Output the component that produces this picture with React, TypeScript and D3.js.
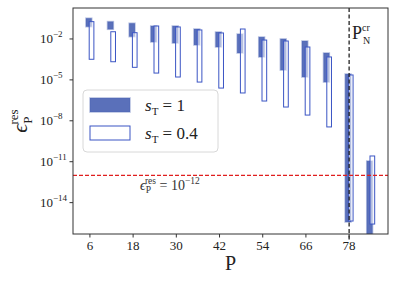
import React from 'react';
import * as d3 from 'd3';

// P values (x positions of the bar pairs)
const pValues = [6, 12, 18, 24, 30, 36, 42, 48, 54, 60, 66, 72, 78, 84];

// log10 of the residual range for s_T = 1 (filled bars): [top, bottom]
const fullTop = [-0.48, -0.73, -0.85, -1.05, -1.05, -1.27, -1.49, -1.64, -1.86, -2.0, -2.15, -3.03, -4.57, -10.95];
const fullBottom = [-1.1, -1.29, -1.83, -2.22, -2.3, -2.44, -2.59, -3.03, -3.32, -4.28, -4.79, -5.16, -15.42, -17.5];

// log10 of the residual range for s_T = 0.4 (outlined bars)
const partTop = [-0.73, -1.47, -1.54, -1.05, -1.12, -1.34, -1.56, -1.27, -2.08, -2.15, -2.59, -3.32, -4.64, -10.58];
const partBottom = [-3.49, -3.67, -4.08, -4.5, -4.79, -5.16, -5.6, -5.96, -6.55, -6.99, -7.58, -8.45, -15.35, -15.57];

const xTicks = [6, 18, 30, 42, 54, 66, 78];
const yTickExp = [-2, -5, -8, -11, -14];
const threshold = 1e-12;
const pCritical = 78;

const W = 397;
const H = 283;
const plot = { left: 73, right: 388, top: 8, bottom: 234 };
const serif = '"Liberation Serif", "DejaVu Serif", serif';

export default function App() {
  const x = d3.scaleLinear().domain([1.3, 88.8]).range([plot.left, plot.right]);
  const y = d3.scaleLog().domain([Math.pow(10, -16.3), Math.pow(10, 0.27)]).range([plot.bottom, plot.top]);

  const fillColor = '#4c64b4';
  const edgeColor = '#3b55c4';

  return (
    <svg width={W} height={H} style={{ position: 'absolute', left: 0, top: 0, background: '#fff', fontFamily: serif }}>
      <defs>
        <clipPath id="plotClip">
          <rect x={plot.left} y={plot.top} width={plot.right - plot.left} height={plot.bottom - plot.top} />
        </clipPath>
      </defs>

      {/* bars */}
      <g clipPath="url(#plotClip)">
        {pValues.map((p, i) => {
          const yt = y(Math.pow(10, fullTop[i]));
          const yb = y(Math.pow(10, fullBottom[i]));
          const x0 = x(p - 1.1);
          const x1 = x(p + 0.5);
          return (
            <rect key={'f' + p} x={x0} y={yt} width={x1 - x0} height={yb - yt}
              fill={fillColor} fillOpacity={0.92} stroke={fillColor} strokeOpacity={0.4} strokeWidth={1.6} />
          );
        })}
        {pValues.map((p, i) => {
          const yt = y(Math.pow(10, partTop[i]));
          const yb = y(Math.pow(10, partBottom[i]));
          const x0 = x(p - 0.2);
          const x1 = x(p + 1.1);
          return (
            <rect key={'o' + p} x={x0} y={yt} width={x1 - x0} height={yb - yt}
              fill="#fff" fillOpacity={0.55} stroke={edgeColor} strokeWidth={1} />
          );
        })}
      </g>

      {/* threshold line */}
      <line x1={plot.left} x2={plot.right} y1={y(threshold)} y2={y(threshold)}
        stroke="#e01e1e" strokeWidth={1.2} strokeDasharray="4,2" />
      <text x={140} y={y(threshold) + 15} fontSize={14} fill="#333">
        <tspan fontStyle="italic">ϵ</tspan>
        <tspan fontSize={9.5} dy={3}>P</tspan>
        <tspan fontSize={9.5} dx={-6} dy={-9}>res</tspan>
        <tspan dy={6}> = 10</tspan>
        <tspan fontSize={9.5} dy={-6}>−12</tspan>
      </text>

      {/* critical P line */}
      <line x1={x(pCritical)} x2={x(pCritical)} y1={plot.top} y2={240}
        stroke="#222" strokeWidth={1.3} strokeDasharray="4,2.5" />
      <text x={352} y={39} fontSize={18} fill="#222">
        P
        <tspan fontSize={10} dy={-8}>cr</tspan>
      </text>
      <text x={363} y={44} fontSize={10} fill="#222">N</text>

      {/* axes frame */}
      <rect x={plot.left} y={plot.top} width={plot.right - plot.left} height={plot.bottom - plot.top}
        fill="none" stroke="#333" strokeWidth={1} />

      {/* y ticks */}
      {yTickExp.map(e => {
        const yy = y(Math.pow(10, e));
        return (
          <g key={'y' + e}>
            <line x1={plot.left - 3.5} x2={plot.left} y1={yy} y2={yy} stroke="#333" />
            <text x={plot.left - 33} y={yy + 4.5} fontSize={13} fill="#222">
              10
              <tspan fontSize={9} dy={-6}>{'−' + Math.abs(e)}</tspan>
            </text>
          </g>
        );
      })}

      {/* x ticks */}
      {xTicks.map(t => (
        <g key={'x' + t}>
          <line x1={x(t)} x2={x(t)} y1={plot.bottom} y2={plot.bottom + 3.5} stroke="#333" />
          <text x={x(t)} y={plot.bottom + 16} fontSize={13} textAnchor="middle" fill="#222">{t}</text>
        </g>
      ))}

      {/* axis labels */}
      <text x={(plot.left + plot.right) / 2} y={270} fontSize={20} textAnchor="middle" fill="#222">P</text>
      <g transform={`translate(27, ${(plot.top + plot.bottom) / 2}) rotate(-90)`}>
        <text x={0} y={0} fontSize={22} textAnchor="middle" fill="#222">
          <tspan fontStyle="italic">ϵ</tspan>
          <tspan fontSize={13} dy={5}>P</tspan>
          <tspan fontSize={13} dx={-8} dy={-14}>res</tspan>
        </text>
      </g>

      {/* legend */}
      <rect x={83} y={90} width={135} height={62} rx={4} fill="#fff" fillOpacity={0.85} stroke="#d8d8d8" />
      <rect x={90} y={98} width={40} height={14} fill={fillColor} fillOpacity={0.92} stroke={fillColor} strokeOpacity={0.4} strokeWidth={1.6} />
      <text x={145} y={111} fontSize={17} fill="#222">
        <tspan fontStyle="italic">s</tspan>
        <tspan fontSize={11} dy={4}>T</tspan>
        <tspan dy={-4}> = 1</tspan>
      </text>
      <rect x={90} y={126} width={40} height={14} fill="#fff" stroke={edgeColor} strokeWidth={1} />
      <text x={145} y={139} fontSize={17} fill="#222">
        <tspan fontStyle="italic">s</tspan>
        <tspan fontSize={11} dy={4}>T</tspan>
        <tspan dy={-4}> = 0.4</tspan>
      </text>
    </svg>
  );
}
